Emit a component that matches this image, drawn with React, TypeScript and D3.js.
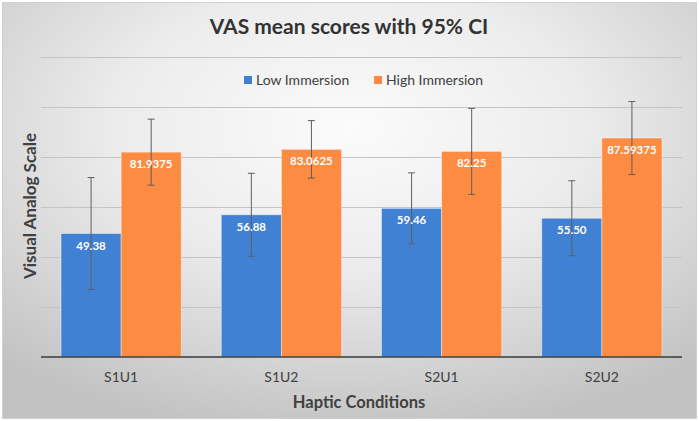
import { useEffect, useRef } from "react";
import * as d3 from "d3";

const categories = ["S1U1", "S1U2", "S2U1", "S2U2"];
const seriesNames = ["Low Immersion", "High Immersion"];
const lowMeans = [49.38, 56.88, 59.46, 55.5];
const highMeans = [81.9375, 83.0625, 82.25, 87.59375];
// half width of the 95% CI
const lowCI = [22.4, 16.6, 14.2, 15.0];
const highCI = [13.2, 11.5, 17.2, 14.6];
const yTicks = [0, 20, 40, 60, 80, 100, 120];

const colors = {
  low: "#4181d3",
  high: "#fd8c42",
  text: "#404040",
  grid: "#c4c4c4",
  axis: "#3a3a3a",
  whisker: "#5f5f5f",
};

const W = 699;
const H = 421;
const FONT = "Lato, 'Open Sans', sans-serif";

interface BarDatum {
  category: string;
  series: string;
  mean: number;
  ci: number;
  label: string;
}

const bars: BarDatum[] = categories.flatMap((c, i) => [
  { category: c, series: seriesNames[0], mean: lowMeans[i], ci: lowCI[i], label: lowMeans[i].toFixed(2) },
  { category: c, series: seriesNames[1], mean: highMeans[i], ci: highCI[i], label: String(highMeans[i]) },
]);

export default function App() {
  const ref = useRef<SVGSVGElement>(null);

  useEffect(() => {
    const svg = d3.select(ref.current);
    svg.selectAll("*").remove();

    // background with radial shading
    const defs = svg.append("defs");
    const grad = defs
      .append("radialGradient")
      .attr("id", "bg")
      .attr("cx", "50%")
      .attr("cy", "30%")
      .attr("r", "75%");
    grad.append("stop").attr("offset", "0%").attr("stop-color", "#fbfbfb");
    grad.append("stop").attr("offset", "45%").attr("stop-color", "#ececec");
    grad.append("stop").attr("offset", "100%").attr("stop-color", "#c2c2c2");

    svg.append("rect").attr("width", W).attr("height", H).attr("fill", "#ffffff");
    svg
      .append("rect")
      .attr("x", 2.5)
      .attr("y", 2.5)
      .attr("width", W - 5)
      .attr("height", H - 5)
      .attr("fill", "url(#bg)")
      .attr("stroke", "#d0d0d0")
      .attr("stroke-width", 1);

    const x0 = d3.scaleBand().domain(categories).range([41, 682]).padding(0);
    const x1 = d3
      .scaleBand()
      .domain(seriesNames)
      .range([0, x0.bandwidth()])
      .paddingInner(0)
      .paddingOuter(1 / 3);
    const y = d3.scaleLinear().domain([0, 120]).range([357, 57]);
    const color = d3.scaleOrdinal<string>().domain(seriesNames).range([colors.low, colors.high]);
    const cx = (d: BarDatum) =>
      (x0(d.category) as number) + (x1(d.series) as number) + x1.bandwidth() / 2;

    // gridlines
    svg
      .append("g")
      .selectAll("line")
      .data(yTicks.slice(1))
      .join("line")
      .attr("x1", 41)
      .attr("x2", 682)
      .attr("y1", (d) => Math.round(y(d)) + 0.5)
      .attr("y2", (d) => Math.round(y(d)) + 0.5)
      .attr("stroke", colors.grid)
      .attr("stroke-width", 1);

    // bars
    svg
      .append("g")
      .selectAll("rect")
      .data(bars)
      .join("rect")
      .attr("x", (d) => (x0(d.category) as number) + (x1(d.series) as number))
      .attr("y", (d) => y(d.mean))
      .attr("width", x1.bandwidth())
      .attr("height", (d) => y(0) - y(d.mean))
      .attr("fill", (d) => color(d.series))
      .attr("stroke", "#ffffff")
      .attr("stroke-opacity", 0.5)
      .attr("stroke-width", 0.8);

    // baseline
    svg
      .append("line")
      .attr("x1", 41)
      .attr("x2", 682)
      .attr("y1", y(0))
      .attr("y2", y(0))
      .attr("stroke", colors.axis)
      .attr("stroke-width", 1.5);

    // error bars
    const errG = svg.append("g").attr("stroke", colors.whisker).attr("stroke-width", 1);
    const err = errG.selectAll("g").data(bars).join("g");
    err
      .append("line")
      .attr("x1", cx)
      .attr("x2", cx)
      .attr("y1", (d) => y(d.mean + d.ci))
      .attr("y2", (d) => y(d.mean - d.ci));
    [1, -1].forEach((sign) => {
      err
        .append("line")
        .attr("x1", (d) => cx(d) - 3.5)
        .attr("x2", (d) => cx(d) + 3.5)
        .attr("y1", (d) => y(d.mean + sign * d.ci))
        .attr("y2", (d) => y(d.mean + sign * d.ci));
    });

    // value labels, drawn over the whiskers
    svg
      .append("g")
      .selectAll("text")
      .data(bars)
      .join("text")
      .attr("x", cx)
      .attr("y", (d) => y(d.mean) + 16)
      .attr("text-anchor", "middle")
      .attr("font-family", FONT)
      .attr("font-size", 11.5)
      .attr("font-weight", 700)
      .attr("fill", "#ffffff")
      .text((d) => d.label);

    // category labels
    svg
      .append("g")
      .selectAll("text")
      .data(categories)
      .join("text")
      .attr("x", (d) => (x0(d) as number) + x0.bandwidth() / 2)
      .attr("y", 382)
      .attr("text-anchor", "middle")
      .attr("font-family", FONT)
      .attr("font-size", 14)
      .attr("fill", colors.text)
      .text((d) => d);

    // titles
    svg
      .append("text")
      .attr("x", 349)
      .attr("y", 34)
      .attr("text-anchor", "middle")
      .attr("font-family", FONT)
      .attr("font-size", 21)
      .attr("font-weight", 700)
      .attr("fill", "#333333")
      .text("VAS mean scores with 95% CI");

    svg
      .append("text")
      .attr("x", 359)
      .attr("y", 408)
      .attr("text-anchor", "middle")
      .attr("font-family", FONT)
      .attr("font-size", 16.5)
      .attr("font-weight", 700)
      .attr("fill", colors.text)
      .text("Haptic Conditions");

    svg
      .append("text")
      .attr("transform", "translate(36,206) rotate(-90)")
      .attr("text-anchor", "middle")
      .attr("font-family", FONT)
      .attr("font-size", 17)
      .attr("font-weight", 700)
      .attr("fill", colors.text)
      .text("Visual Analog Scale");

    // legend
    const legendX = [244, 374];
    const legend = svg
      .append("g")
      .selectAll("g")
      .data(seriesNames)
      .join("g")
      .attr("transform", (_, i) => `translate(${legendX[i]},80)`);
    legend
      .append("rect")
      .attr("x", 0)
      .attr("y", -4)
      .attr("width", 8)
      .attr("height", 8)
      .attr("fill", (d) => color(d));
    legend
      .append("text")
      .attr("x", 12)
      .attr("y", 5)
      .attr("font-family", FONT)
      .attr("font-size", 14)
      .attr("fill", colors.text)
      .text((d) => d);
  }, []);

  return (
    <svg
      ref={ref}
      width={W}
      height={H}
      style={{ position: "absolute", left: 0, top: 0, display: "block" }}
    />
  );
}
